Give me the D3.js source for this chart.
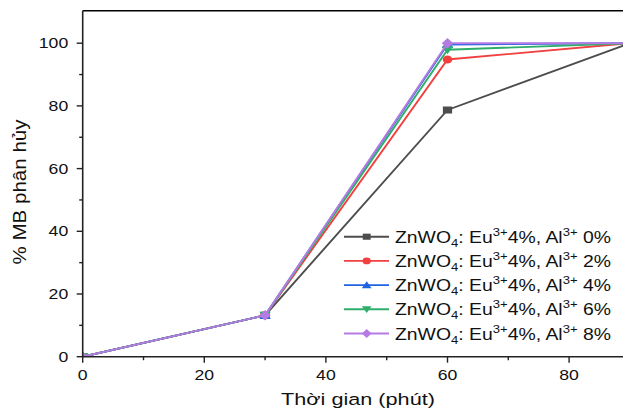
<!DOCTYPE html>
<html>
<head>
<meta charset="utf-8">
<script src="https://cdn.jsdelivr.net/npm/d3@7"></script>
<style>
  html, body { margin: 0; padding: 0; background: #fff; }
  svg { display: block; font-family: "Liberation Sans", Arial, sans-serif; }
</style>
</head>
<body>
<svg id="chart" width="623" height="412"></svg>
<script>
// Time points (minutes) and % MB degraded for each Al3+ content
const times = [0, 30, 60, 90];
const al0 = [0, 13.2, 78.7, 100];
const al2 = [0, 13.2, 94.8, 100];
const al4 = [0, 13.2, 99.6, 100];
const al6 = [0, 13.2, 97.9, 100];
const al8 = [0, 13.2, 100, 100];
const alLabels = ["0%", "2%", "4%", "6%", "8%"];
const xTicks = [0, 20, 40, 60, 80];
const yTicks = [0, 20, 40, 60, 80, 100];

const series = [
  { values: al0, label: alLabels[0], color: "#4d4d4d", marker: "square" },
  { values: al2, label: alLabels[1], color: "#f23f3f", marker: "circle" },
  { values: al4, label: alLabels[2], color: "#1f63e0", marker: "triangle" },
  { values: al6, label: alLabels[3], color: "#2fae6a", marker: "triangleDown" },
  { values: al8, label: alLabels[4], color: "#b57be2", marker: "diamond" }
];

const svg = d3.select("#chart");
const plotLeft = 82.7, plotTop = 10.7, plotBottom = 356.7;
const textStretch = 1.26;

const x = d3.scaleLinear().domain([0, 20]).range([plotLeft, plotLeft + 121.6]);
const y = d3.scaleLinear().domain([0, 100]).range([plotBottom, plotBottom - 313.5]);

// Marker shapes (drawn slightly wider than tall)
function markerPath(type, s) {
  switch (type) {
    case "square": return `M${-s * 1.1},${-s * 0.85}H${s * 1.1}V${s * 0.85}H${-s * 1.1}Z`;
    case "circle": return `M${-s * 1.15},0A${s * 1.15},${s * 0.95} 0 1,0 ${s * 1.15},0A${s * 1.15},${s * 0.95} 0 1,0 ${-s * 1.15},0Z`;
    case "triangle": return `M0,${-s * 1.05}L${s * 1.35},${s * 0.85}L${-s * 1.35},${s * 0.85}Z`;
    case "triangleDown": return `M0,${s * 1.05}L${s * 1.35},${-s * 0.85}L${-s * 1.35},${-s * 0.85}Z`;
    case "diamond": return `M0,${-s * 1.25}L${s * 1.35},0L0,${s * 1.25}L${-s * 1.35},0Z`;
  }
}

// Clip data marks to the plot area
svg.append("defs").append("clipPath").attr("id", "plot-clip")
  .append("rect").attr("x", plotLeft).attr("y", plotTop)
  .attr("width", 623 - plotLeft).attr("height", plotBottom - plotTop);

// Data lines and markers
const line = d3.line().x((d, i) => x(times[i])).y(d => y(d));
const plot = svg.append("g").attr("clip-path", "url(#plot-clip)");
series.forEach(s => {
  plot.append("path")
    .attr("d", line(s.values))
    .attr("fill", "none")
    .attr("stroke", s.color)
    .attr("stroke-width", 1.9);
  plot.selectAll(null)
    .data(s.values)
    .enter().append("path")
    .attr("transform", (d, i) => `translate(${x(times[i])},${y(d)})`)
    .attr("d", markerPath(s.marker, 4.2))
    .attr("fill", s.color);
});

// Stretched text helper
function stretchedText(g, tx, ty, str, size, anchor, sx) {
  return g.append("text")
    .attr("transform", `translate(${tx},${ty}) scale(${sx},1)`)
    .attr("text-anchor", anchor)
    .attr("font-size", size)
    .attr("fill", "#111")
    .text(str);
}

// Frame: top and left lines, bottom axis
svg.append("line").attr("x1", plotLeft).attr("x2", 623).attr("y1", plotTop).attr("y2", plotTop)
  .attr("stroke", "#000").attr("stroke-width", 1.6);

const xAxis = svg.append("g").attr("transform", `translate(0,${plotBottom})`);
xAxis.append("line").attr("x1", plotLeft).attr("x2", 623).attr("stroke", "#222").attr("stroke-width", 1.6);
xAxis.selectAll(".maj").data(xTicks).enter().append("line")
  .attr("x1", d => x(d)).attr("x2", d => x(d)).attr("y1", 0).attr("y2", 6)
  .attr("stroke", "#222").attr("stroke-width", 1.4);
xAxis.selectAll(".min").data(d3.range(10, 90, 20)).enter().append("line")
  .attr("x1", d => x(d)).attr("x2", d => x(d)).attr("y1", 0).attr("y2", 3.5)
  .attr("stroke", "#222").attr("stroke-width", 1.4);
xTicks.forEach(d => stretchedText(xAxis, x(d), 23.5, String(d), 14, "middle", textStretch));

const yAxis = svg.append("g");
yAxis.append("line").attr("x1", plotLeft).attr("x2", plotLeft).attr("y1", plotTop).attr("y2", plotBottom + 0.8)
  .attr("stroke", "#222").attr("stroke-width", 1.6);
yAxis.selectAll(".maj").data(yTicks).enter().append("line")
  .attr("x1", plotLeft - 6).attr("x2", plotLeft).attr("y1", d => y(d)).attr("y2", d => y(d))
  .attr("stroke", "#222").attr("stroke-width", 1.4);
yAxis.selectAll(".min").data(d3.range(10, 110, 20)).enter().append("line")
  .attr("x1", plotLeft - 3.5).attr("x2", plotLeft).attr("y1", d => y(d)).attr("y2", d => y(d))
  .attr("stroke", "#222").attr("stroke-width", 1.4);
yTicks.forEach(d => stretchedText(yAxis, plotLeft - 14.5, y(d) + 5, String(d), 14, "end", textStretch));

// Axis titles
stretchedText(svg, 358, 405, "Thời gian (phút)", 16.3, "middle", 1.33);
svg.append("text")
  .attr("transform", "translate(26,192) rotate(-90) scale(1,1.05)")
  .attr("text-anchor", "middle").attr("font-size", 17.5).attr("fill", "#111")
  .attr("textLength", 145).attr("lengthAdjust", "spacingAndGlyphs")
  .text("% MB phân hủy");

// Legend
const legend = svg.append("g");
series.forEach((s, i) => {
  const ly = 236.7 + i * 24.2;
  legend.append("line").attr("x1", 344).attr("x2", 389).attr("y1", ly).attr("y2", ly)
    .attr("stroke", s.color).attr("stroke-width", 1.9);
  legend.append("path").attr("transform", `translate(366.7,${ly})`)
    .attr("d", markerPath(s.marker, 3.6)).attr("fill", s.color);
  const t = legend.append("text")
    .attr("transform", `translate(395,${ly + 6}) scale(1.19,1)`)
    .attr("font-size", 16.3).attr("fill", "#111");
  t.append("tspan").text("ZnWO");
  t.append("tspan").attr("font-size", 11).attr("dy", 4).text("4");
  t.append("tspan").attr("dy", -4).text(": Eu");
  t.append("tspan").attr("font-size", 11).attr("dy", -7).text("3+");
  t.append("tspan").attr("dy", 7).text("4%, Al");
  t.append("tspan").attr("font-size", 11).attr("dy", -7).text("3+");
  t.append("tspan").attr("dy", 7).text(" " + s.label);
});
</script>
</body>
</html>
